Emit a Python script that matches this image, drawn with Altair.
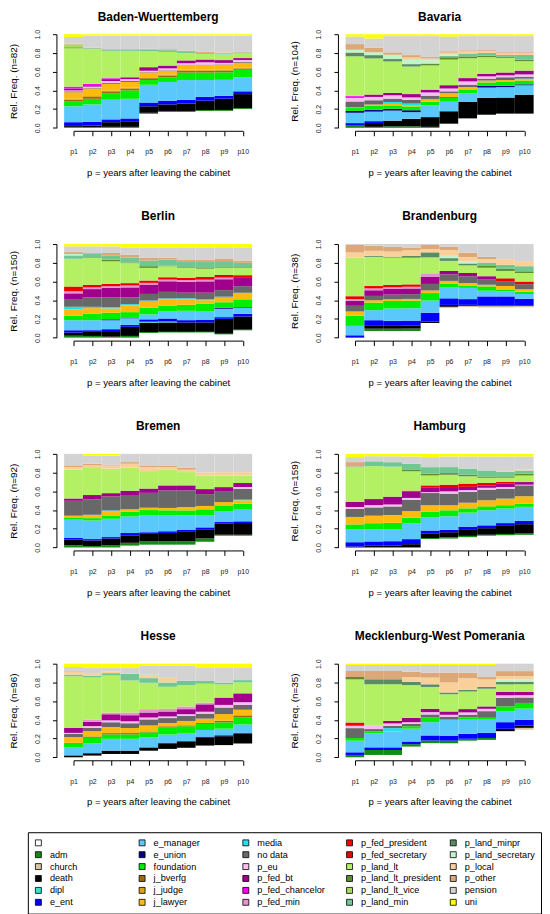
import altair as alt
import pandas as pd

FONT = "Liberation Sans"

CATS = [" ", "adm", "church", "death", "dipl", "e_ent", "e_manager", "e_union",
        "foundation", "j_bverfg", "j_judge", "j_lawyer", "media", "no data", "p_eu",
        "p_fed_bt", "p_fed_chancelor", "p_fed_min", "p_fed_president", "p_fed_secretary",
        "p_land_lt", "p_land_lt_president", "p_land_lt_vice", "p_land_min", "p_land_minpr",
        "p_land_secretary", "p_local", "p_other", "pension", "uni"]

COLORS = ["#FFFFFF", "#138A13", "#D8C4A0", "#000000", "#40E0D0", "#0000FF", "#5AC8FA", "#00008B",
          "#00EE00", "#9C6A10", "#E0A010", "#FFBA10", "#22E0EE", "#686868", "#F8BCF0",
          "#A0008C", "#FF00FF", "#E890D0", "#FF0000", "#EE0000",
          "#B4F064", "#5E8C30", "#A8DC5C", "#70C890", "#5A8C62",
          "#C0F4CC", "#FAD09A", "#DCA878", "#D3D3D3", "#FFFF00"]

STATES = ["Baden-Wuerttemberg", "Bavaria", "Berlin", "Brandenburg",
          "Bremen", "Hamburg", "Hesse", "Mecklenburg-West Pomerania"]
N_OBS = [82, 104, 150, 38, 92, 159, 96, 35]
PERIODS = list(range(1, 11))

# relative frequencies (percent) per period p1..p10
BW = [
    {"adm": 1, "death": 1, "e_ent": 4, "e_manager": 17, "foundation": 5, "j_bverfg": 2, "j_judge": 1, "j_lawyer": 7, "no data": 1, "p_eu": 1, "p_fed_bt": 2, "p_fed_chancelor": 2, "p_land_lt": 41, "p_land_lt_president": 1, "p_land_lt_vice": 3, "p_other": 1, "pension": 7, "uni": 3},
    {"adm": 0.5, "death": 2, "e_ent": 4, "e_manager": 18.5, "foundation": 6, "j_bverfg": 2, "j_judge": 1, "j_lawyer": 8, "no data": 0.5, "p_eu": 1.5, "p_fed_bt": 1.5, "p_fed_chancelor": 1.5, "p_land_lt": 37, "p_land_min": 1, "p_other": 0.5, "pension": 13, "uni": 1.5},
    {"adm": 1, "death": 5, "e_ent": 3, "e_manager": 21, "foundation": 7, "j_bverfg": 2, "j_judge": 1, "j_lawyer": 7, "no data": 1, "p_eu": 2, "p_fed_bt": 2, "p_fed_chancelor": 1, "p_land_lt": 29, "p_land_min": 1, "p_other": 1, "pension": 14.5, "uni": 1.5},
    {"adm": 1, "death": 6, "e_ent": 3, "e_manager": 21, "foundation": 9, "j_bverfg": 2, "j_judge": 1, "j_lawyer": 6, "no data": 1, "p_eu": 2, "p_fed_bt": 2, "p_land_lt": 28, "p_land_min": 1, "p_other": 1, "pension": 14.5, "uni": 1.5},
    {" ": 15, "adm": 1, "death": 7, "e_ent": 4, "e_manager": 19, "foundation": 5, "j_bverfg": 2, "j_judge": 1, "j_lawyer": 5, "no data": 0.5, "p_eu": 1.5, "p_fed_bt": 3, "p_fed_chancelor": 1, "p_land_lt": 17, "p_land_min": 1.5, "p_other": 1, "pension": 14, "uni": 1.5},
    {" ": 17, "adm": 1, "death": 7, "e_ent": 4, "e_manager": 20, "foundation": 5, "j_bverfg": 2, "j_judge": 1, "j_lawyer": 4, "no data": 0.5, "p_eu": 2, "p_fed_bt": 3, "p_land_lt": 15, "p_land_lt_president": 1, "p_land_min": 0.5, "p_other": 1, "pension": 14.5, "uni": 1.5},
    {" ": 17, "adm": 1, "death": 8, "e_ent": 4, "e_manager": 21, "foundation": 8, "j_bverfg": 2, "j_judge": 1, "j_lawyer": 5, "no data": 0.5, "p_eu": 1.5, "p_fed_bt": 3, "p_land_lt": 8, "p_land_min": 1, "p_other": 1.5, "pension": 16, "uni": 1.5},
    {" ": 18, "adm": 1, "death": 10, "e_ent": 4, "e_manager": 18, "foundation": 8, "j_bverfg": 2, "j_judge": 1, "j_lawyer": 5, "no data": 0.5, "p_eu": 2.5, "p_fed_bt": 3, "p_land_lt": 6, "p_land_min": 1, "p_other": 1.5, "pension": 17, "uni": 1.5},
    {" ": 18, "adm": 1, "death": 12, "e_ent": 3, "e_manager": 17, "foundation": 8, "j_bverfg": 2, "j_judge": 1, "j_lawyer": 5, "no data": 0.5, "p_eu": 1.5, "p_fed_bt": 3, "p_land_lt": 6, "p_land_min": 1, "p_other": 1, "pension": 18, "uni": 1.5},
    {" ": 20, "adm": 1, "death": 15, "e_ent": 3, "e_manager": 15, "foundation": 8, "j_bverfg": 1.5, "j_judge": 1, "j_lawyer": 5, "no data": 1, "p_eu": 2, "p_fed_bt": 2, "p_land_lt": 5, "p_land_min": 1, "p_other": 1, "pension": 17, "uni": 1.5},
]

BY = [
    {"adm": 3, "e_ent": 2, "e_manager": 11, "e_union": 2, "foundation": 3, "media": 1, "no data": 6, "p_eu": 4, "p_fed_bt": 1, "p_fed_chancelor": 1, "p_land_lt": 42, "p_land_minpr": 4, "p_land_secretary": 3, "p_other": 6, "pension": 8, "uni": 2.5},
    {"adm": 1, "death": 4, "e_ent": 2, "e_manager": 10, "e_union": 2, "foundation": 4, "j_lawyer": 1.5, "no data": 4.5, "p_eu": 3.5, "p_fed_bt": 2.5, "p_land_lt": 38, "p_land_minpr": 3.5, "p_land_secretary": 3, "p_other": 5, "pension": 9.5, "uni": 4.5},
    {"adm": 1.5, "death": 6, "e_manager": 10.5, "e_union": 2, "foundation": 3.5, "j_lawyer": 1.5, "media": 2, "no data": 3.5, "p_eu": 3.5, "p_fed_bt": 2.5, "p_land_lt": 33, "p_land_minpr": 2.5, "p_land_secretary": 4.5, "p_other": 2.5, "pension": 17, "uni": 2},
    {"adm": 1.5, "death": 8, "e_manager": 7, "e_union": 2, "foundation": 4, "j_lawyer": 1.5, "media": 1.5, "no data": 4, "p_eu": 2.5, "p_fed_bt": 3.5, "p_land_lt": 29, "p_land_minpr": 2.5, "p_land_secretary": 4.5, "p_local": 2.5, "p_other": 2.5, "pension": 20, "uni": 2},
    {"adm": 1, "death": 10.5, "e_manager": 12.5, "foundation": 4, "j_lawyer": 2, "media": 1, "no data": 3.5, "p_eu": 3.5, "p_fed_bt": 3, "p_land_lt": 26, "p_land_lt_president": 2, "p_land_secretary": 3.5, "p_local": 2, "p_other": 2, "pension": 22, "uni": 2},
    {" ": 4, "adm": 0.5, "death": 13, "e_manager": 10, "foundation": 4, "j_bverfg": 1, "j_lawyer": 4, "no data": 2, "p_eu": 3, "p_fed_bt": 3.5, "p_land_lt": 27, "p_land_lt_president": 2.5, "p_land_min": 1.5, "p_land_secretary": 1.5, "p_local": 1.8, "p_other": 1.5, "pension": 15.5, "uni": 2.5},
    {" ": 10, "death": 17.7, "e_manager": 9, "foundation": 4, "j_lawyer": 2.5, "no data": 2.5, "p_eu": 3.5, "p_fed_bt": 3.5, "p_land_lt": 21, "p_land_lt_president": 2, "p_land_min": 3, "p_local": 2.5, "p_other": 1, "pension": 15, "uni": 2},
    {" ": 14, "death": 18, "e_manager": 11, "e_union": 2, "foundation": 3.5, "j_lawyer": 2, "no data": 2, "p_eu": 2.5, "p_fed_bt": 2.5, "p_land_lt": 18, "p_land_lt_president": 1.5, "p_land_min": 3, "p_local": 2, "p_other": 1, "pension": 15, "uni": 2},
    {" ": 15, "death": 17, "e_manager": 11, "e_union": 1.5, "foundation": 4, "j_lawyer": 2, "no data": 3, "p_eu": 2, "p_fed_bt": 3, "p_land_lt": 15.5, "p_land_lt_president": 1, "p_land_min": 2, "p_local": 2, "p_other": 1, "pension": 17, "uni": 2},
    {" ": 15, "death": 20, "e_manager": 10, "e_union": 1, "foundation": 4, "j_lawyer": 1, "media": 1, "no data": 2, "p_eu": 2.5, "p_fed_bt": 4, "p_land_lt": 10, "p_land_lt_president": 1.5, "p_land_min": 5, "p_local": 2, "p_other": 1, "pension": 17, "uni": 2},
]

BE = [
    {"adm": 2, "death": 3.3, "e_ent": 2.5, "e_manager": 10.6, "foundation": 4.6, "j_lawyer": 7, "media": 2.6, "no data": 8.2, "p_fed_bt": 6, "p_fed_min": 2.2, "p_fed_secretary": 5, "p_land_lt": 29.3, "p_land_min": 3.6, "p_land_secretary": 1.5, "p_other": 2, "pension": 6, "uni": 2.5},
    {"adm": 1.8, "death": 4.3, "e_ent": 1.8, "e_manager": 10.6, "foundation": 7.1, "j_lawyer": 5.7, "media": 1.4, "no data": 9.9, "p_fed_bt": 8.9, "p_fed_min": 1.8, "p_fed_secretary": 2.8, "p_land_lt": 28.4, "p_land_lt_president": 0.7, "p_land_min": 3.5, "p_other": 1, "pension": 7.1, "uni": 2.5},
    {"adm": 1, "death": 5, "e_ent": 3, "e_manager": 9.5, "e_union": 1, "foundation": 7, "j_lawyer": 4.6, "media": 1.4, "no data": 10.6, "p_fed_bt": 9.9, "p_fed_min": 1.8, "p_fed_secretary": 2.5, "p_land_lt": 24, "p_land_lt_president": 1.8, "p_land_min": 4.6, "p_other": 2.5, "pension": 7, "uni": 2.5},
    {"adm": 1.8, "death": 9.6, "e_ent": 2, "e_manager": 7, "e_union": 0.7, "foundation": 5.7, "j_lawyer": 7, "media": 1.4, "no data": 7, "p_fed_bt": 10.6, "p_fed_min": 2, "p_fed_secretary": 2.5, "p_land_lt": 21, "p_land_lt_president": 0.7, "p_land_min": 5.3, "p_other": 2.8, "pension": 7.8, "uni": 3.5},
    {" ": 5, "adm": 1, "death": 10, "dipl": 1, "e_ent": 2.5, "e_manager": 5.3, "foundation": 7, "j_lawyer": 6.4, "media": 1.4, "no data": 7, "p_fed_bt": 10, "p_fed_min": 1.8, "p_fed_secretary": 2.5, "p_land_lt": 13.5, "p_land_lt_president": 1.8, "p_land_min": 6, "p_other": 2.8, "pension": 11.3, "uni": 3.5},
    {" ": 5.5, "adm": 0.7, "death": 10, "dipl": 1, "e_ent": 3.2, "e_manager": 7.4, "foundation": 6, "j_lawyer": 7, "media": 1, "no data": 7, "p_fed_bt": 11.3, "p_fed_min": 1.8, "p_fed_secretary": 2.5, "p_land_lt": 11.7, "p_land_lt_president": 0.7, "p_land_min": 6.4, "p_other": 1.8, "pension": 11.3, "uni": 3.5},
    {" ": 5.5, "adm": 0.7, "death": 10, "e_ent": 2.5, "e_manager": 10, "foundation": 6.4, "j_lawyer": 6, "media": 1, "no data": 6, "p_fed_bt": 11.7, "p_fed_min": 1.8, "p_fed_secretary": 2.5, "p_land_lt": 10.6, "p_land_lt_president": 0.7, "p_land_min": 6.4, "p_other": 1.8, "pension": 13, "uni": 3.5},
    {" ": 5.5, "adm": 0.7, "death": 10, "e_ent": 2.5, "e_manager": 9.5, "foundation": 8, "j_lawyer": 3.5, "media": 1, "no data": 7, "p_fed_bt": 12, "p_fed_min": 1.8, "p_fed_secretary": 2.8, "p_land_lt": 8.9, "p_land_lt_president": 0.7, "p_land_min": 6.4, "p_other": 2.5, "pension": 13, "uni": 3.5},
    {" ": 3.5, "adm": 0.7, "death": 16, "e_ent": 1.8, "e_manager": 9, "e_union": 1, "foundation": 6, "j_lawyer": 4.6, "media": 1.4, "no data": 7, "p_fed_bt": 11.7, "p_fed_min": 1.8, "p_fed_secretary": 2.8, "p_land_lt": 7.8, "p_land_lt_president": 0.7, "p_land_min": 6.4, "p_other": 2.8, "pension": 12, "uni": 3.5},
    {" ": 7.8, "adm": 0.7, "death": 14, "e_ent": 2.8, "e_manager": 6.4, "e_union": 0.7, "foundation": 7.8, "j_bverfg": 0.5, "j_lawyer": 6, "media": 1, "no data": 7, "p_fed_bt": 9.6, "p_fed_secretary": 2.1, "p_land_lt": 7.8, "p_land_lt_president": 0.7, "p_land_min": 4.6, "p_other": 2.5, "pension": 14, "uni": 3.5},
]

BB = [
    {"e_ent": 2.5, "e_manager": 10, "foundation": 10.7, "j_lawyer": 4.6, "no data": 6, "p_fed_bt": 5.4, "p_fed_min": 1.8, "p_fed_secretary": 3, "p_land_lt": 41, "p_local": 5.4, "p_other": 8, "pension": 1},
    {" ": 7, "adm": 2.5, "death": 3, "e_ent": 6, "e_manager": 10.7, "foundation": 8, "j_lawyer": 2.5, "no data": 4.6, "p_fed_bt": 6, "p_fed_min": 2, "p_fed_secretary": 2.5, "p_land_lt": 31, "p_land_minpr": 1, "p_local": 5.4, "p_other": 5.4, "pension": 1.8},
    {" ": 7, "adm": 2.5, "death": 3, "e_ent": 5.4, "e_manager": 13, "foundation": 8, "j_lawyer": 1.8, "no data": 5, "p_fed_bt": 6, "p_fed_min": 1.8, "p_fed_secretary": 2.5, "p_land_lt": 29, "p_land_minpr": 1, "p_local": 5.4, "p_other": 5, "pension": 3},
    {" ": 7, "adm": 2.5, "death": 3, "e_ent": 5.4, "e_manager": 13, "foundation": 8, "j_lawyer": 1.8, "no data": 5, "p_fed_bt": 6, "p_fed_min": 1.8, "p_fed_secretary": 2.5, "p_land_lt": 28, "p_land_minpr": 1.8, "p_local": 6, "p_other": 3, "pension": 3.6},
    {" ": 15.7, "death": 1.4, "e_ent": 9.6, "e_manager": 13, "foundation": 8, "j_lawyer": 2.8, "no data": 7, "p_fed_bt": 7.8, "p_fed_min": 3.6, "p_land_lt": 17, "p_land_minpr": 5.4, "p_local": 3.6, "p_other": 4.3, "pension": 1},
    {" ": 31.4, "church": 1.4, "death": 2, "e_ent": 7, "e_manager": 11.4, "foundation": 4.3, "j_lawyer": 2.8, "no data": 7, "p_fed_bt": 3.6, "p_land_lt": 10.7, "p_land_minpr": 2.9, "p_land_secretary": 2.5, "p_local": 6, "p_other": 3.6, "pension": 2.9},
    {" ": 32, "church": 1.4, "death": 1, "e_ent": 6, "e_manager": 11.8, "foundation": 2.5, "j_lawyer": 2.5, "no data": 7, "p_fed_bt": 3.6, "p_land_lt": 8, "p_land_minpr": 2, "p_land_secretary": 2.5, "p_local": 4.3, "p_other": 4.6, "pension": 9},
    {" ": 32, "church": 1.4, "death": 0.7, "e_ent": 9.6, "e_manager": 6, "foundation": 4.6, "j_lawyer": 1.8, "no data": 5.4, "p_fed_bt": 3.6, "p_land_lt": 9, "p_land_lt_president": 1.8, "p_land_min": 3.6, "p_local": 3.6, "p_other": 2.5, "pension": 13.6},
    {" ": 32, "church": 1.4, "death": 0.7, "e_ent": 9.6, "e_manager": 5.4, "foundation": 2, "j_lawyer": 3.6, "no data": 4.6, "p_fed_secretary": 3.6, "p_land_lt": 7.8, "p_land_lt_president": 2.5, "p_land_min": 4, "p_local": 6, "pension": 16},
    {" ": 32, "church": 1.4, "death": 0.7, "e_ent": 7, "e_manager": 5, "foundation": 2.5, "j_lawyer": 2.5, "no data": 5.4, "p_fed_secretary": 2.8, "p_land_lt": 9, "p_land_lt_president": 1.8, "p_land_min": 5.4, "p_local": 5.4, "pension": 18},
]

HB = [
    {"adm": 2.5, "death": 6, "e_ent": 2, "e_manager": 19.4, "foundation": 1.8, "j_lawyer": 2.5, "no data": 16, "p_fed_bt": 2.5, "p_land_lt": 31, "p_local": 2.8, "p_other": 1.8, "pension": 12.4},
    {"adm": 1.5, "death": 6, "e_ent": 1.5, "e_manager": 20, "foundation": 2.5, "j_lawyer": 3.6, "no data": 16.6, "p_fed_bt": 4.6, "p_land_lt": 30, "p_local": 1.8, "p_other": 1.8, "pension": 8.8, "uni": 1.8},
    {"adm": 2.5, "death": 7, "e_ent": 1.5, "e_manager": 19.4, "foundation": 3.5, "j_lawyer": 4.6, "media": 0.7, "no data": 14.8, "p_fed_bt": 3.5, "p_land_lt": 25.8, "p_local": 3.5, "p_other": 1, "pension": 9.5, "uni": 1.8},
    {" ": 2, "adm": 3, "death": 8, "e_ent": 2.5, "e_manager": 17.7, "foundation": 5.3, "j_lawyer": 1.8, "media": 0.7, "no data": 15.2, "p_fed_bt": 4.6, "p_land_lt": 24.7, "p_local": 4.2, "p_other": 1.8, "pension": 8.8},
    {" ": 3, "adm": 3.5, "death": 8, "e_ent": 1.8, "e_manager": 18.4, "foundation": 5.3, "j_lawyer": 2.5, "no data": 15.9, "p_fed_bt": 4.6, "p_land_lt": 18.7, "p_local": 4.2, "p_other": 1.8, "pension": 12.4},
    {" ": 3, "adm": 3.5, "death": 9, "e_ent": 1.8, "e_manager": 16.6, "foundation": 5.7, "j_lawyer": 2.5, "no data": 18.7, "p_fed_bt": 5.3, "p_land_lt": 16.6, "p_local": 2.8, "p_other": 1.8, "pension": 12.4},
    {" ": 3, "adm": 3.5, "death": 10, "e_ent": 2, "e_manager": 15.5, "foundation": 5.3, "j_lawyer": 3.5, "no data": 17.7, "p_fed_bt": 5.3, "p_land_lt": 14.1, "p_local": 2.5, "p_other": 2, "pension": 14.8},
    {" ": 6, "adm": 3.5, "death": 9.6, "e_ent": 2, "e_manager": 13, "foundation": 6, "j_lawyer": 3.5, "no data": 12.4, "p_fed_bt": 5.3, "p_land_lt": 14.1, "p_local": 3.5, "pension": 19.4},
    {" ": 12.5, "adm": 1, "death": 11.7, "e_ent": 1.8, "e_manager": 11.7, "foundation": 6, "j_lawyer": 3.5, "no data": 11.7, "p_fed_bt": 4.2, "p_land_lt": 12.4, "p_local": 3.5, "pension": 19.4},
    {" ": 12.5, "adm": 1, "death": 12.5, "e_ent": 1.8, "e_manager": 12.4, "foundation": 6.4, "j_lawyer": 3.5, "media": 0.7, "no data": 11.7, "p_eu": 1.8, "p_fed_bt": 4.2, "p_land_lt": 8.1, "p_local": 3.5, "pension": 19.4},
]

HH = [
    {"death": 1, "e_ent": 4.6, "e_manager": 14, "foundation": 5, "j_lawyer": 8, "no data": 8.8, "p_eu": 1.8, "p_fed_bt": 5.3, "p_land_lt": 37, "p_land_min": 1, "p_other": 4.6, "pension": 5.3, "uni": 3.5},
    {"death": 1.8, "e_ent": 4.6, "e_manager": 13, "foundation": 6.4, "j_lawyer": 8, "no data": 8.8, "p_eu": 2.5, "p_fed_bt": 6.4, "p_land_lt": 35, "p_land_min": 4.6, "p_other": 0.7, "pension": 5.3, "uni": 2.5},
    {"death": 1.8, "e_ent": 4.6, "e_manager": 12.4, "foundation": 6.4, "j_lawyer": 8, "no data": 8.8, "p_eu": 2, "p_fed_bt": 8, "p_land_lt": 30.7, "p_land_min": 4.6, "pension": 6, "uni": 2.5},
    {"death": 3.5, "e_ent": 5.3, "e_manager": 17, "foundation": 5.6, "j_lawyer": 7, "no data": 12, "p_eu": 2, "p_fed_bt": 7, "p_fed_secretary": 0.7, "p_land_lt": 20.5, "p_land_lt_president": 1.4, "p_land_min": 6.4, "pension": 7.8, "uni": 2.8},
    {" ": 9, "adm": 1, "death": 4.5, "e_ent": 3.5, "e_manager": 13.8, "foundation": 6, "j_lawyer": 7, "no data": 13, "p_eu": 1, "p_fed_bt": 4.6, "p_fed_secretary": 2.5, "p_land_lt": 10.6, "p_land_lt_president": 1.8, "p_land_min": 7, "pension": 10.6, "uni": 3.5},
    {" ": 9.5, "adm": 1.5, "death": 5.3, "e_ent": 2.5, "e_manager": 14.5, "foundation": 6.4, "j_lawyer": 5.3, "no data": 12.4, "p_eu": 2.5, "p_fed_bt": 4.6, "p_fed_secretary": 2.5, "p_land_lt": 10.6, "p_land_lt_president": 1.8, "p_land_min": 6.4, "pension": 11.3, "uni": 2.8},
    {" ": 11, "adm": 1.4, "death": 6.4, "e_ent": 3.5, "e_manager": 15, "foundation": 4.6, "j_lawyer": 6, "no data": 11.7, "p_eu": 1.8, "p_fed_bt": 3.5, "p_fed_secretary": 3.5, "p_land_lt": 7.8, "p_land_lt_president": 1.8, "p_land_min": 6.4, "pension": 13, "uni": 2.8},
    {" ": 12.5, "adm": 1, "death": 7, "e_ent": 3, "e_manager": 16, "foundation": 4.2, "j_lawyer": 6.4, "no data": 11.3, "p_eu": 2, "p_fed_bt": 2.5, "p_fed_secretary": 2.8, "p_land_lt": 5.3, "p_land_lt_president": 1.4, "p_land_min": 6.4, "pension": 14.8, "uni": 2.8},
    {" ": 13, "adm": 1.4, "death": 8.5, "e_ent": 3, "e_manager": 15.5, "foundation": 3.5, "j_lawyer": 7, "no data": 10.6, "p_eu": 1.8, "p_fed_bt": 3.5, "p_fed_secretary": 1.8, "p_land_lt": 4.6, "p_land_lt_president": 1.4, "p_land_min": 4.6, "p_local": 1, "pension": 15.5, "uni": 2.8},
    {" ": 13.5, "adm": 1.4, "death": 10, "e_ent": 3.5, "e_manager": 15, "foundation": 3.5, "j_lawyer": 7.8, "no data": 11.7, "p_eu": 0.7, "p_fed_bt": 2.8, "p_land_lt": 7, "p_land_lt_president": 1.8, "p_land_min": 3.5, "p_local": 1, "pension": 14, "uni": 2.8},
]

HE = [
    {"death": 1.4, "e_ent": 0.7, "e_manager": 8.8, "foundation": 3.5, "j_bverfg": 1, "j_lawyer": 6, "no data": 3.5, "p_eu": 1, "p_fed_bt": 5.3, "p_land_lt": 54.8, "p_land_min": 1.8, "p_local": 2.8, "p_other": 0.7, "pension": 4.6, "uni": 3.5},
    {" ": 1.8, "death": 2.5, "e_manager": 10.6, "foundation": 5.6, "j_bverfg": 1.4, "j_lawyer": 5.6, "no data": 3.5, "p_eu": 1.8, "p_fed_bt": 4.6, "p_fed_min": 2, "p_land_lt": 44.5, "p_land_min": 1.8, "p_local": 2.8, "pension": 5.3, "uni": 4.6},
    {" ": 3.5, "death": 3.5, "e_manager": 12.4, "foundation": 4.6, "j_bverfg": 1.4, "j_lawyer": 6.4, "no data": 5, "p_eu": 2, "p_fed_bt": 6.4, "p_fed_min": 1.8, "p_land_lt": 38.9, "p_land_min": 2.5, "p_local": 1.8, "pension": 3.5, "uni": 4.6},
    {" ": 3.5, "death": 3.5, "e_manager": 12.4, "foundation": 4.6, "j_bverfg": 1.4, "j_lawyer": 5.3, "no data": 5, "p_eu": 2, "p_fed_bt": 6.4, "p_fed_min": 2.8, "p_land_lt": 33.6, "p_land_min": 7, "pension": 6, "uni": 4.6},
    {" ": 7, "death": 3.5, "e_manager": 10.6, "foundation": 5.3, "j_bverfg": 1, "j_lawyer": 6.4, "no data": 6.4, "p_eu": 2, "p_fed_bt": 5.3, "p_fed_min": 3.5, "p_land_lt": 28, "p_land_min": 5, "p_local": 3.5, "pension": 10, "uni": 1.8},
    {" ": 9, "death": 6, "e_ent": 0.7, "e_manager": 8.8, "foundation": 7.8, "j_bverfg": 1, "j_lawyer": 3.5, "no data": 5.3, "p_eu": 1.8, "p_fed_bt": 5.3, "p_fed_min": 2.8, "p_land_lt": 23.7, "p_land_min": 4.6, "p_local": 5, "pension": 13.4, "uni": 1.8},
    {" ": 10, "death": 6.4, "e_ent": 0.7, "e_manager": 8.5, "foundation": 7, "j_bverfg": 1, "j_lawyer": 4.6, "no data": 5.3, "p_eu": 1.8, "p_fed_bt": 5.3, "p_fed_min": 2.8, "p_land_lt": 22.6, "p_land_min": 4.6, "pension": 16, "uni": 1.8},
    {" ": 12.4, "death": 8.8, "e_ent": 0.7, "e_manager": 7, "foundation": 6.4, "j_bverfg": 1, "j_lawyer": 4.6, "no data": 5.3, "p_eu": 2, "p_fed_bt": 7.8, "p_fed_min": 1.8, "p_land_lt": 20, "p_land_min": 2.5, "p_land_minpr": 0.7, "pension": 13.4, "uni": 4.6},
    {" ": 13, "death": 9.5, "e_ent": 1, "e_manager": 7, "foundation": 6.7, "j_bverfg": 1.8, "j_lawyer": 7, "no data": 7, "p_eu": 2.8, "p_fed_bt": 7.8, "p_land_lt": 14, "p_land_min": 2, "pension": 15.5, "uni": 4.6},
    {" ": 14.8, "death": 10.6, "e_ent": 1, "e_manager": 8.8, "foundation": 7.8, "j_bverfg": 2, "j_lawyer": 6, "no data": 5.3, "p_eu": 2.8, "p_fed_bt": 9.5, "p_land_lt": 11.7, "p_land_min": 2.5, "pension": 13, "uni": 4.6},
]

MV = [
    {"adm": 2.5, "e_ent": 2.8, "e_manager": 12.4, "foundation": 2.8, "no data": 10.6, "p_eu": 2.5, "p_fed_president": 3.5, "p_land_lt": 46, "p_land_lt_president": 2.5, "p_other": 6.4, "pension": 6.4, "uni": 1.4},
    {" ": 2.5, "adm": 5.3, "e_ent": 2.8, "e_manager": 15, "foundation": 2, "no data": 2.5, "p_eu": 3.5, "p_land_lt": 44.3, "p_land_minpr": 5.3, "p_other": 8.8, "pension": 6.4, "uni": 1.4},
    {" ": 2.5, "adm": 5.3, "e_ent": 2.8, "e_manager": 17, "media": 3.5, "no data": 2.5, "p_eu": 2.5, "p_fed_bt": 2.8, "p_land_lt": 39, "p_land_minpr": 5.3, "p_other": 8.8, "pension": 6.4, "uni": 1.4},
    {" ": 11.3, "adm": 2.5, "e_ent": 2.8, "e_manager": 13.5, "foundation": 2.5, "no data": 2.5, "p_eu": 1.8, "p_fed_bt": 4.6, "p_land_lt": 34.4, "p_land_minpr": 3.5, "p_local": 5, "p_other": 5.6, "pension": 7, "uni": 1.4},
    {" ": 14.9, "adm": 2.8, "e_ent": 5.3, "e_manager": 14, "foundation": 5.3, "no data": 2.8, "p_eu": 2.5, "p_fed_bt": 3.5, "p_land_lt": 23, "p_land_minpr": 2.8, "p_local": 7, "p_other": 5.3, "pension": 8, "uni": 1.4},
    {" ": 14.9, "adm": 2.8, "e_ent": 5.3, "e_manager": 16.7, "foundation": 1, "no data": 2.5, "p_eu": 2, "p_fed_bt": 3.5, "p_land_lt": 18.4, "p_land_minpr": 1.8, "p_local": 10.6, "p_other": 10.6, "pension": 8, "uni": 1.4},
    {" ": 17.7, "adm": 2, "e_ent": 5.3, "e_manager": 15, "foundation": 2.5, "no data": 2.8, "p_eu": 2.5, "p_fed_bt": 3.5, "p_land_lt": 18.7, "p_land_minpr": 1.8, "p_local": 12.4, "p_other": 6, "pension": 8, "uni": 1.4},
    {" ": 18.4, "adm": 2, "e_ent": 5.3, "e_manager": 14, "foundation": 2, "no data": 7, "p_eu": 2.5, "p_fed_bt": 2.5, "p_land_lt": 18.7, "p_land_minpr": 1.8, "p_local": 8, "p_other": 2.5, "pension": 12.7, "uni": 1.4},
    {" ": 27.6, "death": 2.5, "e_ent": 7, "e_manager": 11.7, "foundation": 5, "no data": 9.2, "p_eu": 2.5, "p_fed_bt": 3.5, "p_land_lt": 8, "p_land_minpr": 2.8, "p_land_secretary": 2.5, "p_local": 3.5, "p_other": 5.3, "pension": 7.8},
    {" ": 29, "church": 2, "death": 2.5, "e_ent": 6, "e_manager": 11.7, "foundation": 6, "no data": 5.7, "p_eu": 2.5, "p_fed_bt": 3.5, "p_land_lt": 8, "p_land_minpr": 2.5, "p_land_secretary": 2.5, "p_local": 3.5, "p_other": 5.3, "pension": 7.8},
]

DATA = [BW, BY, BE, BB, HB, HH, HE, MV]

records = []
for state, periods in zip(STATES, DATA):
    for p, shares in zip(PERIODS, periods):
        for k, cat in enumerate(CATS):
            v = shares.get(cat, 0)
            if v > 0:
                records.append({"state": state, "p": p, "xa": p - 0.5, "xb": p + 0.5,
                                "cat": cat, "k": k, "v": v})
df = pd.DataFrame(records)

LEGEND = alt.Legend(
    title=None, orient="none", legendX=-46, legendY=804, columns=5, direction="vertical",
    symbolType="square", symbolSize=36, symbolStrokeColor="black", symbolStrokeWidth=0.8,
    labelFont=FONT, labelFontSize=9.2, labelColor="black", labelLimit=300, labelOffset=7,
    gridAlign="all", columnPadding=7.5, rowPadding=2.0, padding=6,
    strokeColor="black", symbolOpacity=1,
)

W = 170.5
H = 94.3


def panel(state, n, top_row):
    return alt.Chart(df).transform_filter(
        alt.datum.state == state
    ).transform_stack(
        stack="v", groupby=["p"], as_=["y0", "y1"], offset="normalize",
        sort=[alt.SortField("k", order="ascending")]
    ).mark_rect().encode(
        x=alt.X("xa:Q", scale=alt.Scale(domain=[1, 10], nice=False, zero=False),
                axis=alt.Axis(values=PERIODS, labelExpr="'p' + datum.value", labelFontSize=7,
                              tickSize=5, offset=3, labelPadding=12, labelFlush=False,
                              labelOverlap=False, titleFontSize=9.6, titlePadding=13, grid=False),
                title="p = years after leaving the cabinet"),
        x2="xb:Q",
        y=alt.Y("y0:Q", scale=alt.Scale(domain=[0, 1], nice=False),
                axis=alt.Axis(values=[0, 0.2, 0.4, 0.6, 0.8, 1.0], format=".1f", labelAngle=270,
                              labelAlign="center", labelBaseline="bottom", labelFontSize=7,
                              tickSize=4, offset=17.2, labelPadding=12.5, titleFontSize=10,
                              titlePadding=15, grid=False, labelFlush=False),
                title=f"Rel. Freq. (n={n})"),
        y2="y1:Q",
        color=alt.Color("cat:N", scale=alt.Scale(domain=CATS, range=COLORS), legend=LEGEND),
    ).properties(
        width=W, height=H,
        title=alt.TitleParams(state, font=FONT, fontSize=12, fontWeight="bold", anchor="middle",
                              baseline="bottom", offset=-7 if top_row else 4, color="black"),
    )


panels = [panel(STATES[i], N_OBS[i], i < 2) for i in range(8)]

chart = alt.concat(*panels, columns=2, spacing={"row": 116.4, "column": 112.6}, bounds="flush").properties(
    padding=0, background="white"
).configure_view(stroke=None).configure_axis(
    labelFont=FONT, titleFont=FONT, domainColor="black", tickColor="black",
    labelColor="#222", titleColor="black", titleFontWeight="normal", domainWidth=1, tickWidth=1
)

chart.save("out.html", embed_options={"renderer": "svg", "actions": False})
